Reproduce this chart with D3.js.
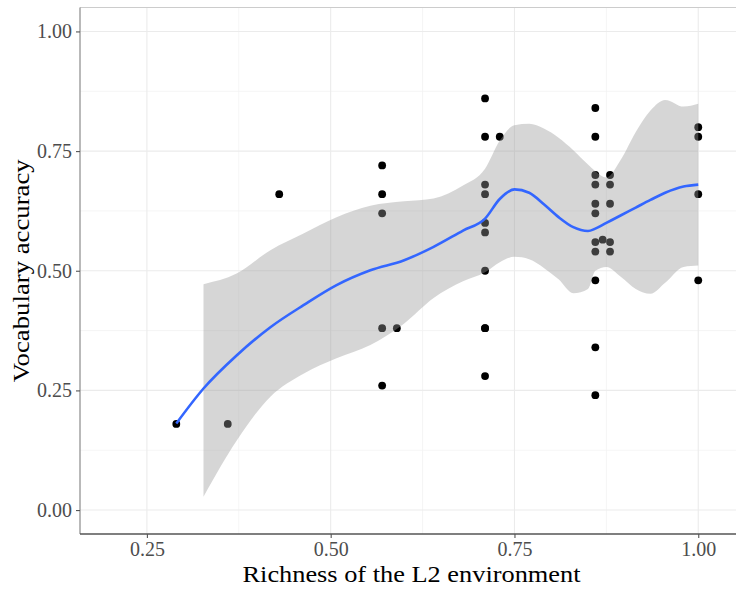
<!DOCTYPE html>
<html>
<head>
<meta charset="utf-8">
<script src="https://cdn.jsdelivr.net/npm/d3@7"></script>
<style>
  body { margin: 0; background: #fff; }
  svg { display: block; }
</style>
</head>
<body>
<svg id="chart" width="736" height="589"></svg>
<script>
// observed points
var richness = [0.29, 0.36, 0.43,
    0.57, 0.57, 0.57, 0.57, 0.57, 0.59,
    0.71, 0.71, 0.73, 0.71, 0.71, 0.71, 0.71, 0.71, 0.71, 0.71, 0.71,
    0.86, 0.86, 0.86, 0.88, 0.86, 0.88, 0.86, 0.88, 0.86, 0.86, 0.87, 0.88, 0.86, 0.88, 0.86, 0.86, 0.86,
    1.00, 1.00, 1.00, 1.00];
var accuracy = [0.18, 0.18, 0.66,
    0.72, 0.66, 0.62, 0.38, 0.26, 0.38,
    0.86, 0.78, 0.78, 0.68, 0.66, 0.60, 0.58, 0.50, 0.38, 0.28, 0.38,
    0.84, 0.78, 0.70, 0.70, 0.68, 0.68, 0.64, 0.64, 0.62, 0.56, 0.565, 0.56, 0.54, 0.54, 0.48, 0.34, 0.24,
    0.80, 0.78, 0.66, 0.48];

// loess fit + confidence band
var smoothX = [0.29, 0.327, 0.372, 0.418, 0.463, 0.508, 0.554, 0.60, 0.64, 0.68, 0.71, 0.73, 0.75,
    0.77, 0.79, 0.81, 0.83, 0.85, 0.86, 0.875, 0.895, 0.915, 0.935, 0.955, 0.98, 1.00];
var smoothFit = [0.181, 0.254, 0.323, 0.382, 0.428, 0.470, 0.501, 0.522, 0.550, 0.584, 0.609, 0.650, 0.670,
    0.663, 0.639, 0.612, 0.591, 0.583, 0.588, 0.600, 0.616, 0.632, 0.648, 0.663, 0.676, 0.680];
var smoothUpper = [null, 0.472, 0.494, 0.543, 0.578, 0.612, 0.636, 0.645, 0.651, 0.678, 0.713, 0.772, 0.804,
    0.807, 0.797, 0.778, 0.752, 0.722, 0.708, 0.695, 0.733, 0.790, 0.835, 0.857, 0.843, 0.849];
var smoothLower = [null, 0.028, 0.145, 0.237, 0.285, 0.317, 0.345, 0.390, 0.443, 0.478, 0.497, 0.518, 0.529,
    0.524, 0.506, 0.482, 0.453, 0.462, 0.500, 0.508, 0.487, 0.462, 0.452, 0.475, 0.508, 0.511];

var xTicks = [0.25, 0.50, 0.75, 1.00];
var yTicks = [0.00, 0.25, 0.50, 0.75, 1.00];
var xMinor = [0.375, 0.625, 0.875];
var yMinor = [0.125, 0.375, 0.625, 0.875];

var svg = d3.select('#chart');
var pLeft = 80, pRight = 760, pTop = 7.5, pBottom = 534;
var fontFam = '"Liberation Serif", "Times New Roman", serif';

var x = d3.scaleLinear().domain([0.159, 1.084]).range([pLeft, pRight]);
var y = d3.scaleLinear().domain([-0.05, 1.05]).range([pBottom, pTop]);

svg.append('rect')
    .attr('x', pLeft).attr('y', pTop)
    .attr('width', pRight - pLeft).attr('height', pBottom - pTop)
    .attr('fill', '#fff');

// grid
svg.append('g').selectAll('line').data(xMinor).enter().append('line')
    .attr('x1', function(d) { return x(d); }).attr('x2', function(d) { return x(d); })
    .attr('y1', pTop).attr('y2', pBottom)
    .attr('stroke', '#f2f2f2').attr('stroke-width', 0.8);
svg.append('g').selectAll('line').data(yMinor).enter().append('line')
    .attr('y1', function(d) { return y(d); }).attr('y2', function(d) { return y(d); })
    .attr('x1', pLeft).attr('x2', pRight)
    .attr('stroke', '#f2f2f2').attr('stroke-width', 0.8);
svg.append('g').selectAll('line').data(xTicks).enter().append('line')
    .attr('x1', function(d) { return x(d); }).attr('x2', function(d) { return x(d); })
    .attr('y1', pTop).attr('y2', pBottom)
    .attr('stroke', '#ebebeb').attr('stroke-width', 1.1);
svg.append('g').selectAll('line').data(yTicks).enter().append('line')
    .attr('y1', function(d) { return y(d); }).attr('y2', function(d) { return y(d); })
    .attr('x1', pLeft).attr('x2', pRight)
    .attr('stroke', '#ebebeb').attr('stroke-width', 1.1);

// points (drawn under the band, like ggplot)
svg.append('g').selectAll('circle').data(richness).enter().append('circle')
    .attr('cx', function(d) { return x(d); })
    .attr('cy', function(d, i) { return y(accuracy[i]); })
    .attr('r', 3.9)
    .attr('fill', '#000');

var band = smoothX.map(function(d, i) {
    return { x: d, lo: smoothLower[i], hi: smoothUpper[i], fit: smoothFit[i] };
});

var area = d3.area()
    .defined(function(d) { return d.lo !== null; })
    .x(function(d) { return x(d.x); })
    .y0(function(d) { return y(d.lo); })
    .y1(function(d) { return y(d.hi); })
    .curve(d3.curveMonotoneX);

svg.append('path')
    .datum(band)
    .attr('d', area)
    .attr('fill', '#999999')
    .attr('fill-opacity', 0.4);

var line = d3.line()
    .x(function(d) { return x(d.x); })
    .y(function(d) { return y(d.fit); })
    .curve(d3.curveMonotoneX);

svg.append('path')
    .datum(band)
    .attr('d', line)
    .attr('fill', 'none')
    .attr('stroke', '#3366ff')
    .attr('stroke-width', 2.6);

// frame
svg.append('line')
    .attr('x1', pLeft).attr('x2', pRight).attr('y1', pTop).attr('y2', pTop)
    .attr('stroke', '#cccccc').attr('stroke-width', 1.2);
svg.append('line')
    .attr('x1', pLeft).attr('x2', pLeft).attr('y1', pTop).attr('y2', pBottom)
    .attr('stroke', '#8a8a8a').attr('stroke-width', 1.2);
svg.append('line')
    .attr('x1', pLeft).attr('x2', pRight).attr('y1', pBottom).attr('y2', pBottom)
    .attr('stroke', '#555555').attr('stroke-width', 1.3);

// axes
var xAxis = svg.append('g')
    .attr('transform', 'translate(0,' + pBottom + ')')
    .call(d3.axisBottom(x).tickValues(xTicks).tickFormat(d3.format('.2f')).tickSize(4).tickPadding(4));
var yAxis = svg.append('g')
    .attr('transform', 'translate(' + pLeft + ',0)')
    .call(d3.axisLeft(y).tickValues(yTicks).tickFormat(d3.format('.2f')).tickSize(4).tickPadding(4));

[xAxis, yAxis].forEach(function(a) {
    a.select('.domain').remove();
    a.selectAll('.tick line').attr('stroke', '#555555').attr('stroke-width', 1.1);
    a.selectAll('.tick text')
        .attr('fill', '#4d4d4d')
        .attr('font-family', fontFam)
        .attr('font-size', 20);
});

svg.append('text')
    .attr('x', 411.5)
    .attr('y', 582)
    .attr('text-anchor', 'middle')
    .attr('font-family', fontFam)
    .attr('font-size', 23.5)
    .attr('textLength', 338)
    .attr('lengthAdjust', 'spacingAndGlyphs')
    .attr('fill', '#000')
    .text('Richness of the L2 environment');

svg.append('text')
    .attr('transform', 'translate(29,' + ((pTop + pBottom) / 2) + ') rotate(-90)')
    .attr('text-anchor', 'middle')
    .attr('font-family', fontFam)
    .attr('font-size', 23.5)
    .attr('textLength', 223)
    .attr('lengthAdjust', 'spacingAndGlyphs')
    .attr('fill', '#000')
    .text('Vocabulary accuracy');
</script>
</body>
</html>
